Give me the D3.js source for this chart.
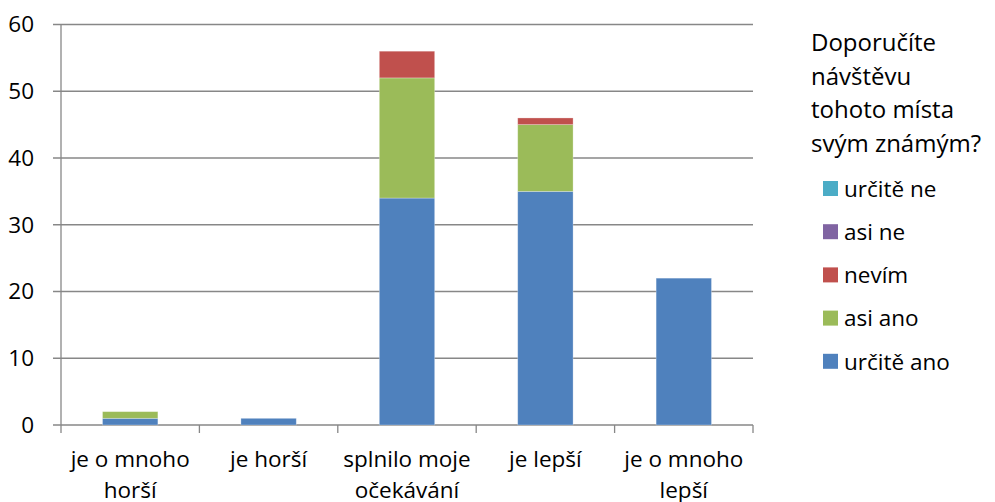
<!DOCTYPE html>
<html><head><meta charset="utf-8">
<script src="https://cdn.jsdelivr.net/npm/d3@7"></script>
<style>body{margin:0;background:#fff}svg{display:block}</style>
</head><body>
<svg id="c" width="995" height="502"></svg>
<script>
const categories = [["je o mnoho","horší"],["je horší"],["splnilo moje","očekávání"],["je lepší"],["je o mnoho","lepší"]];
const seriesNames = ["určitě ano","asi ano","nevím","asi ne","určitě ne"];
const urciteAno = [1,1,34,35,22];
const asiAno = [1,0,18,10,0];
const nevim = [0,0,4,1,0];
const asiNe = [0,0,0,0,0];
const urciteNe = [0,0,0,0,0];
const yTicks = [0,10,20,30,40,50,60];
const legendTitle = ["Doporučíte","návštěvu","tohoto místa","svým známým?"];
const colors = ["#4F81BD","#9BBB59","#C0504D","#8064A2","#4BACC6"];

const FONT = "'Open Sans', sans-serif";
const FS = 22.5;
const FT = 24;
const svg = d3.select("#c");
const L=61, R=753, T=24.5, B=425;
const keys = categories.map((c,i)=>i);
const x = d3.scaleBand().domain(keys).range([L,R]).paddingInner(0.6).paddingOuter(0.3);
const xb = d3.scaleBand().domain(keys).range([L,R]);
const y = d3.scaleLinear().domain([0,60]).range([B,T]);

const vals = [urciteAno,asiAno,nevim,asiNe,urciteNe];
const rows = keys.map(i=>{const o={i}; seriesNames.forEach((s,k)=>o[s]=vals[k][i]); return o;});
const stack = d3.stack().keys(seriesNames)(rows);

// gridlines
svg.append("g").selectAll("line").data(yTicks).join("line")
  .attr("x1",L-8).attr("x2",R).attr("y1",d=>y(d)).attr("y2",d=>y(d))
  .attr("stroke","#878787").attr("stroke-width",1.3);

// bars
svg.append("g").selectAll("g").data(stack).join("g")
  .attr("fill",(d,k)=>colors[k])
  .selectAll("rect").data(d=>d.filter(p=>p[1]-p[0]>0)).join("rect")
  .attr("x",d=>x(d.data.i)).attr("width",x.bandwidth())
  .attr("y",d=>y(d[1])).attr("height",d=>y(d[0])-y(d[1]))
  .attr("stroke","rgba(255,255,255,0.35)").attr("stroke-width",0.8);

// y axis line
svg.append("line").attr("x1",L).attr("x2",L).attr("y1",T).attr("y2",B)
  .attr("stroke","#878787").attr("stroke-width",1.3);
// x axis ticks
const xt = keys.map(i=>xb(i)).concat([R]);
svg.append("g").selectAll("line").data(xt).join("line")
  .attr("x1",d=>d).attr("x2",d=>d).attr("y1",B).attr("y2",B+8)
  .attr("stroke","#878787").attr("stroke-width",1.3);

// y labels
svg.append("g").selectAll("text").data(yTicks).join("text")
  .attr("x",34).attr("y",d=>y(d)).attr("dy","0.35em").attr("text-anchor","end")
  .attr("font-family",FONT).attr("font-size",FS).attr("fill","#000").text(d=>d);

// x labels
const xl = svg.append("g").selectAll("text").data(keys).join("text")
  .attr("x",i=>xb(i)+xb.bandwidth()/2).attr("text-anchor","middle")
  .attr("font-family",FONT).attr("font-size",FS).attr("fill","#000");
xl.each(function(i){
  d3.select(this).selectAll("tspan").data(categories[i]).join("tspan")
    .attr("x",xb(i)+xb.bandwidth()/2).attr("y",(d,j)=>467+j*31).text(d=>d);
});

// legend title
svg.append("g").selectAll("text").data(legendTitle).join("text")
  .attr("x",811).attr("y",(d,j)=>51+j*33.5)
  .attr("font-family",FONT).attr("font-size",FT).attr("fill","#000").text(d=>d);

// legend items (reverse order)
const legOrder = seriesNames.map((s,k)=>k).reverse();
const lg = svg.append("g").selectAll("g").data(legOrder).join("g")
  .attr("transform",(k,j)=>`translate(823,${189+j*43.2})`);
lg.append("rect").attr("x",0).attr("y",-8).attr("width",15).attr("height",15).attr("fill",k=>colors[k]);
lg.append("text").attr("x",21).attr("y",0).attr("dy","0.35em")
  .attr("font-family",FONT).attr("font-size",FS).attr("fill","#000").text(k=>seriesNames[k]);
</script>
</body></html>
